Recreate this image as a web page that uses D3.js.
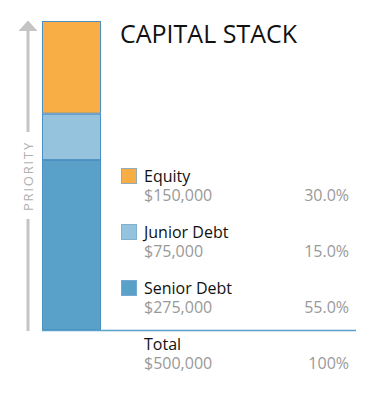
<!DOCTYPE html>
<html>
<head>
<meta charset="utf-8">
<script src="https://cdn.jsdelivr.net/npm/d3@7"></script>
<style>
  body { margin: 0; background: #fff; }
  text { font-family: "Open Sans", sans-serif; }
</style>
</head>
<body>
<div id="chart-area"></div>
<script>
// data, top of stack first
var tranches = ["Equity", "Junior Debt", "Senior Debt"];
var amounts = [150000, 75000, 275000];
var colors = ["#f9ad45", "#95c2dc", "#5aa1ca"];

var width = 375, height = 398;
var total = d3.sum(amounts);

var svg = d3.select("#chart-area")
    .append("svg")
    .attr("width", width)
    .attr("height", height);

// y scale for the stack
var yScale = d3.scaleLinear()
    .domain([0, total])
    .range([330, 21]);

var xScale = d3.scaleBand()
    .domain(["stack"])
    .range([42, 101])
    .padding(0);

// build stacked segments (bottom = senior)
var rows = [];
var acc = 0;
for (var i = tranches.length - 1; i >= 0; i--) {
    rows.push({ name: tranches[i], value: amounts[i], color: colors[i], y0: acc, y1: acc + amounts[i] });
    acc += amounts[i];
}

svg.selectAll("rect.seg")
    .data(rows)
    .enter()
    .append("rect")
    .attr("class", "seg")
    .attr("x", xScale("stack") + 0.5)
    .attr("width", xScale.bandwidth() - 1)
    .attr("y", d => yScale(d.y1) + 0.5)
    .attr("height", d => yScale(d.y0) - yScale(d.y1) - 1)
    .attr("fill", d => d.color)
    .attr("stroke", "#4a90c2")
    .attr("stroke-width", 1);

// baseline
svg.append("line")
    .attr("x1", 42)
    .attr("x2", 356)
    .attr("y1", yScale(0) + 0.5)
    .attr("y2", yScale(0) + 0.5)
    .attr("stroke", "#5aa1ca")
    .attr("stroke-width", 1.5);

// priority arrow
var ax = 28;
svg.append("line")
    .attr("x1", ax).attr("x2", ax)
    .attr("y1", 29).attr("y2", 132)
    .attr("stroke", "#c4c4c4").attr("stroke-width", 3);
svg.append("line")
    .attr("x1", ax).attr("x2", ax)
    .attr("y1", 219).attr("y2", 331)
    .attr("stroke", "#c4c4c4").attr("stroke-width", 3);
svg.append("path")
    .attr("d", "M" + (ax - 9.5) + ",31 L" + ax + ",20.5 L" + (ax + 9.5) + ",31 Z")
    .attr("fill", "#c4c4c4");
svg.append("text")
    .attr("transform", "translate(" + (ax + 5) + ",176) rotate(-90)")
    .attr("text-anchor", "middle")
    .attr("font-size", "13px")
    .attr("letter-spacing", "1.8px")
    .attr("fill", "#b0b0b0")
    .text("PRIORITY");

// title
svg.append("text")
    .attr("x", 120)
    .attr("y", 43)
    .attr("font-size", "25px")
    .attr("fill", "#111")
    .text("CAPITAL STACK");

var fmt = d3.format("$,");
var pct = d3.format(".1%");

// legend
var legend = svg.append("g");
tranches.forEach((t, i) => {
    var row = legend.append("g").attr("transform", "translate(0," + (i * 56) + ")");
    row.append("rect")
        .attr("x", 121.5).attr("y", 168.5)
        .attr("width", 15).attr("height", 15)
        .attr("fill", colors[i])
        .attr("stroke", "#4a90c2")
        .attr("stroke-opacity", 0.6);
    row.append("text")
        .attr("x", 144).attr("y", 181.5)
        .attr("font-size", "16px")
        .attr("fill", "#111")
        .text(t);
    row.append("text")
        .attr("x", 144).attr("y", 201)
        .attr("font-size", "16px")
        .attr("fill", "#999")
        .text(fmt(amounts[i]));
    row.append("text")
        .attr("x", 349).attr("y", 201)
        .attr("text-anchor", "end")
        .attr("font-size", "16px")
        .attr("fill", "#999")
        .text(pct(amounts[i] / total));
});

// total
svg.append("text")
    .attr("x", 144).attr("y", 349.5)
    .attr("font-size", "16px")
    .attr("fill", "#111")
    .text("Total");
svg.append("text")
    .attr("x", 144).attr("y", 369)
    .attr("font-size", "16px")
    .attr("fill", "#999")
    .text(fmt(total));
svg.append("text")
    .attr("x", 349).attr("y", 369)
    .attr("text-anchor", "end")
    .attr("font-size", "16px")
    .attr("fill", "#999")
    .text("100%");
</script>
</body>
</html>
